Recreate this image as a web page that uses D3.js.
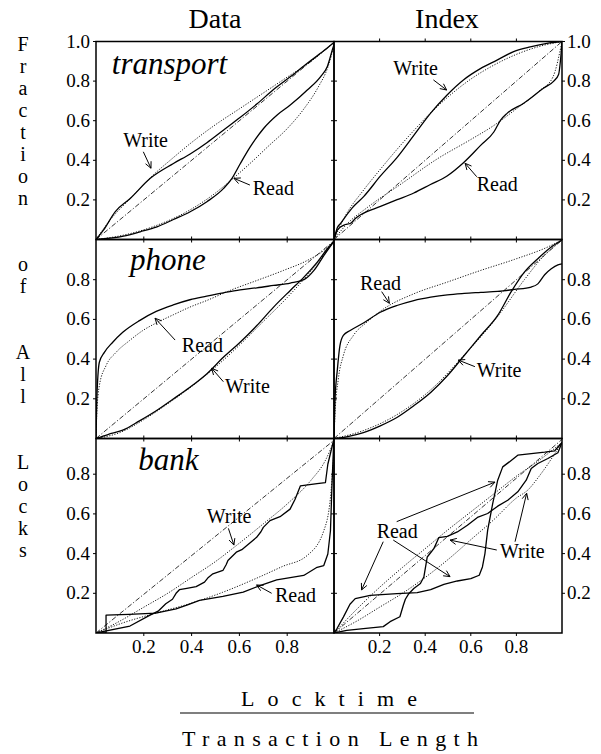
<!DOCTYPE html>
<html><head><meta charset="utf-8">
<script src="https://cdn.jsdelivr.net/npm/d3@7"></script>
<style>
body{margin:0;background:#fff}
svg{display:block}
svg text{font-family:"Liberation Serif","Times New Roman","DejaVu Serif",serif;fill:#000}
</style>
</head><body>
<script>
// ---------- tick labels ----------
const xTicks = [0.2, 0.4, 0.6, 0.8];
const yTicksTop = [0.2, 0.4, 0.6, 0.8, 1.0];
const yTicksLower = [0.2, 0.4, 0.6, 0.8];
const columnTitles = ["Data", "Index"];
const rowTitles = ["transport", "phone", "bank"];

// ---------- series: [x, y] pairs ----------
const transportDataRead = [[0,0],[0.115,0.017],[0.185,0.039],[0.255,0.064],[0.324,0.101],[0.394,0.14],[0.464,0.191],[0.534,0.258],[0.569,0.309],[0.604,0.384],[0.646,0.469],[0.702,0.562],[0.758,0.629],[0.814,0.68],[0.884,0.755],[0.94,0.823],[0.968,0.874],[0.989,0.958],[1,1]];
const transportDataReadFit = [[0,0],[0.115,0.022],[0.255,0.072],[0.394,0.15],[0.5,0.235],[0.57,0.305],[0.65,0.39],[0.72,0.47],[0.8,0.56],[0.87,0.66],[0.93,0.77],[0.97,0.87],[1,1]];
const transportDataWrite = [[0,0],[0.031,0.047],[0.08,0.14],[0.143,0.207],[0.227,0.309],[0.324,0.384],[0.394,0.432],[0.464,0.489],[0.534,0.553],[0.604,0.617],[0.674,0.685],[0.744,0.759],[0.814,0.823],[0.884,0.89],[0.954,0.954],[1,1]];
const transportDataWriteFit = [[0,0],[0.06,0.1],[0.15,0.215],[0.23,0.315],[0.32,0.41],[0.4,0.49],[0.5,0.58],[0.6,0.66],[0.7,0.74],[0.8,0.82],[0.9,0.9],[1,1]];

const transportIndexRead = [[0,0],[0.015,0.048],[0.044,0.073],[0.073,0.082],[0.095,0.107],[0.117,0.125],[0.204,0.167],[0.277,0.201],[0.35,0.235],[0.423,0.278],[0.496,0.321],[0.569,0.389],[0.642,0.474],[0.701,0.543],[0.73,0.602],[0.759,0.637],[0.832,0.688],[0.92,0.765],[0.964,0.8],[0.985,0.833],[0.993,0.9],[1,1]];
const transportIndexReadFit = [[0,0],[0.05,0.07],[0.15,0.165],[0.3,0.285],[0.45,0.405],[0.6,0.505],[0.7,0.575],[0.8,0.66],[0.9,0.75],[0.96,0.82],[1,1]];
const transportIndexWrite = [[0,0],[0.015,0.06],[0.029,0.082],[0.08,0.16],[0.131,0.218],[0.204,0.321],[0.277,0.415],[0.35,0.526],[0.423,0.637],[0.496,0.73],[0.569,0.807],[0.642,0.863],[0.715,0.906],[0.788,0.949],[0.861,0.973],[0.934,0.991],[1,1]];
const transportIndexWriteFit = [[0,0],[0.05,0.12],[0.13,0.25],[0.2,0.35],[0.28,0.46],[0.35,0.55],[0.42,0.635],[0.5,0.72],[0.6,0.81],[0.7,0.88],[0.8,0.935],[0.9,0.975],[1,1]];

const phoneDataRead = [[0,0],[0.003,0.18],[0.014,0.384],[0.035,0.434],[0.07,0.485],[0.112,0.535],[0.182,0.594],[0.252,0.64],[0.323,0.673],[0.393,0.699],[0.463,0.717],[0.533,0.734],[0.603,0.749],[0.673,0.759],[0.743,0.771],[0.813,0.783],[0.87,0.8],[0.912,0.847],[0.954,0.923],[1,1]];
const phoneDataReadFit = [[0,0],[0.003,0.114],[0.014,0.266],[0.042,0.367],[0.084,0.434],[0.14,0.493],[0.196,0.544],[0.252,0.582],[0.323,0.623],[0.393,0.662],[0.463,0.695],[0.561,0.746],[0.673,0.796],[0.785,0.847],[0.884,0.897],[0.954,0.948],[1,1]];
const phoneDataWrite = [[0,0],[0.05,0.02],[0.112,0.042],[0.182,0.089],[0.252,0.14],[0.323,0.199],[0.393,0.258],[0.463,0.325],[0.533,0.409],[0.603,0.485],[0.673,0.569],[0.743,0.662],[0.813,0.746],[0.87,0.813],[0.926,0.889],[0.968,0.956],[1,1]];
const phoneDataWriteFit = [[0,0],[0.1,0.03],[0.2,0.095],[0.3,0.175],[0.4,0.262],[0.5,0.36],[0.6,0.47],[0.7,0.59],[0.8,0.71],[0.9,0.845],[1,1]];

const phoneIndexRead = [[0,0],[0.004,0.182],[0.015,0.35],[0.026,0.468],[0.041,0.519],[0.071,0.544],[0.129,0.582],[0.203,0.636],[0.276,0.67],[0.35,0.695],[0.424,0.712],[0.497,0.724],[0.571,0.731],[0.644,0.736],[0.718,0.741],[0.791,0.751],[0.865,0.763],[0.894,0.779],[0.924,0.825],[0.953,0.855],[0.982,0.875],[1,0.88]];
const phoneIndexReadFit = [[0,0],[0.004,0.114],[0.019,0.3],[0.041,0.418],[0.085,0.519],[0.144,0.586],[0.218,0.653],[0.35,0.729],[0.497,0.788],[0.644,0.847],[0.791,0.902],[0.938,0.965],[1,1]];
const phoneIndexWrite = [[0,0],[0.06,0.01],[0.129,0.03],[0.203,0.064],[0.276,0.106],[0.35,0.165],[0.424,0.232],[0.497,0.316],[0.571,0.418],[0.644,0.519],[0.718,0.62],[0.776,0.737],[0.835,0.838],[0.894,0.906],[0.953,0.965],[1,1]];
const phoneIndexWriteFit = [[0,0],[0.129,0.04],[0.276,0.12],[0.424,0.245],[0.571,0.42],[0.718,0.615],[0.835,0.8],[0.92,0.92],[1,1]];

const bankDataRead = [[0,0],[0.042,0.0],[0.042,0.09],[0.138,0.094],[0.25,0.1],[0.335,0.122],[0.38,0.14],[0.433,0.164],[0.531,0.184],[0.616,0.206],[0.686,0.239],[0.756,0.268],[0.869,0.29],[0.925,0.331],[0.953,0.34],[0.97,0.398],[0.981,0.515],[0.988,0.767],[0.995,0.975]];
const bankDataReadFit = [[0,0],[0.11,0.05],[0.25,0.1],[0.39,0.147],[0.53,0.205],[0.67,0.275],[0.78,0.335],[0.883,0.39],[0.953,0.515],[0.981,0.683],[0.992,0.85],[0.998,0.975]];
const bankDataWrite = [[0,0],[0.142,0.035],[0.226,0.09],[0.26,0.11],[0.292,0.147],[0.32,0.17],[0.335,0.2],[0.349,0.218],[0.38,0.225],[0.419,0.234],[0.454,0.256],[0.47,0.28],[0.489,0.298],[0.531,0.315],[0.545,0.345],[0.552,0.365],[0.587,0.407],[0.61,0.42],[0.63,0.44],[0.672,0.482],[0.69,0.51],[0.7,0.532],[0.728,0.566],[0.77,0.586],[0.812,0.624],[0.833,0.674],[0.855,0.741],[0.925,0.753],[0.96,0.758],[0.97,0.85],[0.995,0.975]];
const bankDataWriteFit = [[0,0],[0.1,0.06],[0.2,0.13],[0.3,0.2],[0.4,0.28],[0.5,0.36],[0.576,0.43],[0.7,0.55],[0.8,0.65],[0.9,0.77],[0.96,0.87],[0.998,0.975]];

const bankIndexRead = [[0,0],[0.012,0.02],[0.041,0.08],[0.07,0.145],[0.093,0.173],[0.159,0.19],[0.276,0.198],[0.365,0.203],[0.424,0.218],[0.482,0.245],[0.541,0.262],[0.6,0.274],[0.637,0.291],[0.651,0.333],[0.662,0.4],[0.674,0.518],[0.696,0.652],[0.718,0.77],[0.74,0.837],[0.769,0.862],[0.806,0.896],[0.865,0.904],[0.924,0.911],[0.968,0.918],[1,0.96]];
const bankIndexReadFit = [[0,0],[0.1,0.12],[0.2,0.23],[0.3,0.33],[0.4,0.425],[0.5,0.52],[0.6,0.61],[0.7,0.7],[0.8,0.79],[0.9,0.87],[1,0.96]];
const bankIndexWrite = [[0,0],[0.056,0.013],[0.129,0.022],[0.216,0.032],[0.246,0.057],[0.289,0.082],[0.304,0.14],[0.313,0.17],[0.328,0.198],[0.35,0.224],[0.379,0.249],[0.394,0.282],[0.409,0.383],[0.438,0.425],[0.46,0.481],[0.497,0.487],[0.541,0.509],[0.585,0.543],[0.629,0.582],[0.674,0.602],[0.718,0.639],[0.762,0.669],[0.806,0.711],[0.843,0.77],[0.865,0.829],[0.894,0.854],[0.938,0.879],[0.982,0.908],[1,0.96]];
const bankIndexWriteFit = [[0,0],[0.1,0.06],[0.2,0.13],[0.3,0.2],[0.4,0.28],[0.5,0.37],[0.6,0.47],[0.7,0.57],[0.8,0.68],[0.85,0.72],[0.9,0.79],[1,0.96]];

const diagonalFull = [[0,0],[1,1]];
const diagonalBank = [[0,0],[1,0.975]];

// ---------- annotations (data coordinates) ----------
const transportDataNotes = [{t:"Write",x:0.114,y:0.469,a:[[0.198,0.443,0.23,0.36]]},{t:"Read",x:0.656,y:0.225,a:[[0.644,0.275,0.577,0.309]]}];
const transportIndexNotes = [{t:"Write",x:0.26,y:0.831,a:[[0.436,0.806,0.494,0.755]]},{t:"Read",x:0.626,y:0.245,a:[[0.626,0.317,0.575,0.385]]}];
const phoneDataNotes = [{t:"Read",x:0.359,y:0.437,a:[[0.331,0.496,0.247,0.606]]},{t:"Write",x:0.54,y:0.228,a:[[0.533,0.286,0.484,0.354]]}];
const phoneIndexNotes = [{t:"Read",x:0.114,y:0.748,a:[[0.209,0.74,0.243,0.681]]},{t:"Write",x:0.626,y:0.311,a:[[0.618,0.362,0.545,0.395]]}];
const bankDataNotes = [{t:"Write",x:0.463,y:0.553,a:[[0.554,0.527,0.577,0.443]]},{t:"Read",x:0.749,y:0.158,a:[[0.735,0.2,0.672,0.242]]}];
const bankIndexNotes = [{t:"Read",x:0.187,y:0.477,a:[[0.216,0.46,0.121,0.217],[0.26,0.468,0.509,0.284],[0.275,0.561,0.706,0.76]]},{t:"Write",x:0.728,y:0.376,a:[[0.714,0.418,0.509,0.468],[0.794,0.46,0.845,0.704]]}];
const rowTitlePos = [[0.066,0.837],[0.142,0.849],[0.177,0.821]];

// ---------- layout ----------
const W = 601, H = 754;
const FONT = "Liberation Serif, Times New Roman, DejaVu Serif, serif";
const colRange = [[96, 335], [334, 562]];
const colClip = [[96, 334], [334, 562]];
const rowLayout = [{zero:239.5, unit:198, top:41.5}, {zero:438.5, unit:198.5, top:239.5}, {zero:633, unit:198.5, top:438.5}];

const panels = [
  {r:0,c:0,read:transportDataRead,readFit:transportDataReadFit,write:transportDataWrite,writeFit:transportDataWriteFit,diag:diagonalFull,notes:transportDataNotes,smooth:true},
  {r:0,c:1,read:transportIndexRead,readFit:transportIndexReadFit,write:transportIndexWrite,writeFit:transportIndexWriteFit,diag:diagonalFull,notes:transportIndexNotes,smooth:true},
  {r:1,c:0,read:phoneDataRead,readFit:phoneDataReadFit,write:phoneDataWrite,writeFit:phoneDataWriteFit,diag:diagonalFull,notes:phoneDataNotes,smooth:true},
  {r:1,c:1,read:phoneIndexRead,readFit:phoneIndexReadFit,write:phoneIndexWrite,writeFit:phoneIndexWriteFit,diag:diagonalFull,notes:phoneIndexNotes,smooth:true},
  {r:2,c:0,read:bankDataRead,readFit:bankDataReadFit,write:bankDataWrite,writeFit:bankDataWriteFit,diag:diagonalBank,notes:bankDataNotes,smooth:false},
  {r:2,c:1,read:bankIndexRead,readFit:bankIndexReadFit,write:bankIndexWrite,writeFit:bankIndexWriteFit,diag:diagonalBank,notes:bankIndexNotes,smooth:false}
];

const svg = d3.select("body").append("svg").attr("width", W).attr("height", H)
  .attr("font-family", FONT);
const defs = svg.append("defs");

function txt(parent) {
  return parent.append("text").attr("font-family", FONT);
}

panels.forEach((p, i) => {
  const L = rowLayout[p.r];
  const x = d3.scaleLinear().domain([0, 1]).range(colRange[p.c]);
  const y = d3.scaleLinear().domain([0, 1]).range([L.zero, L.zero - L.unit]);
  const x0 = colClip[p.c][0], x1 = colClip[p.c][1];
  const yTop = L.top, yBot = L.zero;

  defs.append("clipPath").attr("id", "clip" + i).append("rect")
    .attr("x", x0).attr("y", yTop).attr("width", x1 - x0).attr("height", yBot - yTop);

  const g = svg.append("g");
  const plot = g.append("g").attr("clip-path", `url(#clip${i})`);

  const lineSmooth = d3.line().x(d => x(d[0])).y(d => y(d[1])).curve(d3.curveMonotoneX);
  const lineLin = d3.line().x(d => x(d[0])).y(d => y(d[1]));
  const solidLine = p.smooth ? lineSmooth : lineLin;

  plot.append("path").attr("d", lineLin(p.diag)).attr("fill", "none").attr("stroke", "#000")
    .attr("stroke-width", 0.8).attr("stroke-dasharray", "5,2,1.2,2");
  [p.readFit, p.writeFit].forEach(s => plot.append("path").attr("d", lineSmooth(s)).attr("fill", "none")
    .attr("stroke", "#000").attr("stroke-width", 0.9).attr("stroke-dasharray", "1.2,1.5"));
  [p.read, p.write].forEach(s => plot.append("path").attr("d", solidLine(s)).attr("fill", "none")
    .attr("stroke", "#000").attr("stroke-width", 1.3).attr("stroke-linejoin", "round"));

  // frame
  g.append("rect").attr("x", x0).attr("y", yTop).attr("width", x1 - x0).attr("height", yBot - yTop)
    .attr("fill", "none").attr("stroke", "#000").attr("stroke-width", 1.5);

  // y ticks
  const yt = p.r === 0 ? yTicksTop : yTicksLower;
  const tickLen = 3;
  const sideX = p.c === 0 ? x0 : x1;
  const otherX = p.c === 0 ? x1 : x0;
  yt.forEach(v => {
    const yy = y(v);
    g.append("line").attr("x1", sideX).attr("x2", sideX + (p.c === 0 ? -tickLen : tickLen))
      .attr("y1", yy).attr("y2", yy).attr("stroke", "#000").attr("stroke-width", 1);
    g.append("line").attr("x1", otherX).attr("x2", otherX + (p.c === 0 ? tickLen : -tickLen))
      .attr("y1", yy).attr("y2", yy).attr("stroke", "#000").attr("stroke-width", 1);
    txt(g).attr("x", p.c === 0 ? sideX - 6 : sideX + 5).attr("y", yy + 6)
      .attr("text-anchor", p.c === 0 ? "end" : "start").attr("font-size", 19).text(v.toFixed(1));
  });
  // x ticks
  xTicks.forEach(v => {
    const xx = x(v);
    g.append("line").attr("x1", xx).attr("x2", xx).attr("y1", yBot).attr("y2", yBot + tickLen)
      .attr("stroke", "#000").attr("stroke-width", 1);
    if (p.c === 1 || p.r > 0)
      g.append("line").attr("x1", xx).attr("x2", xx).attr("y1", yTop).attr("y2", yTop - tickLen)
        .attr("stroke", "#000").attr("stroke-width", 1);
    if (p.r === 2)
      txt(g).attr("x", xx).attr("y", yBot + 20).attr("text-anchor", "middle")
        .attr("font-size", 19).text(v.toFixed(1));
  });

  // row title
  if (p.c === 0) {
    txt(g).attr("x", x(rowTitlePos[p.r][0])).attr("y", y(rowTitlePos[p.r][1]))
      .attr("font-size", 31).attr("font-style", "italic").text(rowTitles[p.r]);
  }

  // notes
  p.notes.forEach(n => {
    txt(g).attr("x", x(n.x)).attr("y", y(n.y)).attr("font-size", 20).text(n.t);
    n.a.forEach(a => {
      const sx = x(a[0]), sy = y(a[1]), ex = x(a[2]), ey = y(a[3]);
      g.append("line").attr("x1", sx).attr("y1", sy).attr("x2", ex).attr("y2", ey)
        .attr("stroke", "#000").attr("stroke-width", 1);
      const ang = Math.atan2(ey - sy, ex - sx), hl = 7, ha = 0.45;
      [ang + Math.PI - ha, ang + Math.PI + ha].forEach(t => {
        g.append("line").attr("x1", ex).attr("y1", ey)
          .attr("x2", ex + hl * Math.cos(t)).attr("y2", ey + hl * Math.sin(t))
          .attr("stroke", "#000").attr("stroke-width", 1);
      });
    });
  });
});

// column titles
columnTitles.forEach((t, c) => {
  txt(svg).attr("x", (colClip[c][0] + colClip[c][1]) / 2 + (c === 0 ? 0 : -1)).attr("y", 28)
    .attr("text-anchor", "middle").attr("font-size", 28).text(t);
});

// vertical y label: one text, upright vertical writing, spaces preserved
txt(svg).attr("x", 23).attr("y", 33)
  .attr("xml:space", "preserve")
  .style("white-space", "pre")
  .style("writing-mode", "vertical-rl").style("text-orientation", "upright")
  .attr("font-size", 20).style("letter-spacing", "0px")
  .text("Fraction  of  All  Locks");

// x label as fraction
txt(svg).attr("x", 241).attr("y", 706).attr("font-size", 22)
  .attr("textLength", 176).attr("lengthAdjust", "spacing").text("Locktime");
svg.append("line").attr("x1", 180).attr("x2", 474).attr("y1", 713).attr("y2", 713)
  .attr("stroke", "#000").attr("stroke-width", 1.2);
txt(svg).attr("x", 182).attr("y", 746).attr("font-size", 22)
  .attr("textLength", 296).attr("lengthAdjust", "spacing").text("Transaction Length");
</script></body></html>
